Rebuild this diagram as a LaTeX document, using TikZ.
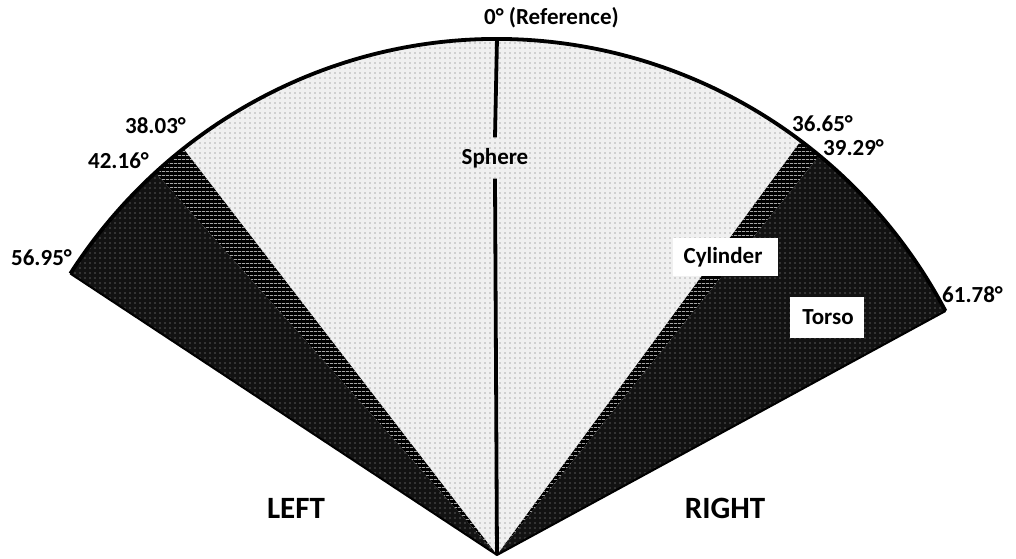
\documentclass[tikz,border=0pt]{standalone}
\usepackage{fontspec}
\setmainfont{Carlito}
\usetikzlibrary{patterns.meta}
\begin{document}
\begin{tikzpicture}[x=1pt,y=1pt,
  lbl/.style={font=\fontsize{23}{27}\selectfont\bfseries, inner sep=0pt},
  side/.style={font=\fontsize{31}{36}\selectfont\bfseries, inner sep=0pt},
  spherefill/.style={fill=black!6, postaction={pattern={Dots[distance=5pt, radius=0.55pt]}, pattern color=black!60}},
  cylfill/.style={fill=black, postaction={pattern={Lines[angle=0, distance=4pt, line width=0.8pt]}, pattern color=white}},
  torsofill/.style={fill=black!93, postaction={pattern={Dots[distance=5pt, radius=0.6pt]}, pattern color=black!35}},
  labbox/.style={fill=white, draw=white, inner sep=0pt}
]
\def\rx{509}\def\ry{516}
\useasboundingbox (-497,-3) rectangle (519,555);
\coordinate (apex) at (0,0);
\coordinate (top) at (0,\ry);
% sphere
\path[spherefill] (apex) -- ({\rx*cos(53.35)},{\ry*sin(53.35)}) arc[start angle=53.35, end angle=128.03, x radius=\rx, y radius=\ry] -- cycle;
% cylinders
\path[cylfill] (apex) -- ({\rx*cos(128.03)},{\ry*sin(128.03)}) arc[start angle=128.03, end angle=132.16, x radius=\rx, y radius=\ry] -- cycle;
\path[cylfill] (apex) -- ({\rx*cos(50.71)},{\ry*sin(50.71)}) arc[start angle=50.71, end angle=53.35, x radius=\rx, y radius=\ry] -- cycle;
% torso
\path[torsofill] (apex) -- ({\rx*cos(132.16)},{\ry*sin(132.16)}) arc[start angle=132.16, end angle=146.95, x radius=\rx, y radius=\ry] -- cycle;
\path[torsofill] (apex) -- ({\rx*cos(28.22)},{\ry*sin(28.22)}) arc[start angle=28.22, end angle=50.71, x radius=\rx, y radius=\ry] -- cycle;
% outline
\draw[line width=3.8pt, line join=round] ({\rx*cos(28.22)},{\ry*sin(28.22)}) arc[start angle=28.22, end angle=146.95, x radius=\rx, y radius=\ry];
\draw[line width=2pt, line join=round] ({\rx*cos(146.95)},{\ry*sin(146.95)}) -- (apex) -- ({\rx*cos(28.22)},{\ry*sin(28.22)});
% labels
\node[lbl, minimum height=41pt] (sphere) at (-2,397) {Sphere};
\draw[line width=3.8pt] (top) -- (sphere.north);
\draw[line width=3.8pt] (sphere.south) -- (apex);
\node[labbox, minimum width=104pt, minimum height=37pt] (cylbox) at (228,298.5) {};
\node[lbl] (cyl) at (226,298) {Cylinder};
\node[labbox, minimum width=73pt, minimum height=40pt] (torso) at (329.5,238) {};
\node[lbl] (torsotxt) at (331,238) {Torso};
\node[lbl] (ref) at (54.5,537) {0° (Reference)};
\node[lbl] (l38) at (-341.5,429) {38.03°};
\node[lbl] (l42) at (-378.5,394) {42.16°};
\node[lbl] (l56) at (-455.5,297) {56.95°};
\node[lbl] (r36) at (325.5,431) {36.65°};
\node[lbl] (r39) at (356.5,407.5) {39.29°};
\node[lbl] (r61) at (475.5,260) {61.78°};
\node[side] (left) at (-201,47) {LEFT};
\node[side] (right) at (228,47) {RIGHT};
\end{tikzpicture}
\end{document}
